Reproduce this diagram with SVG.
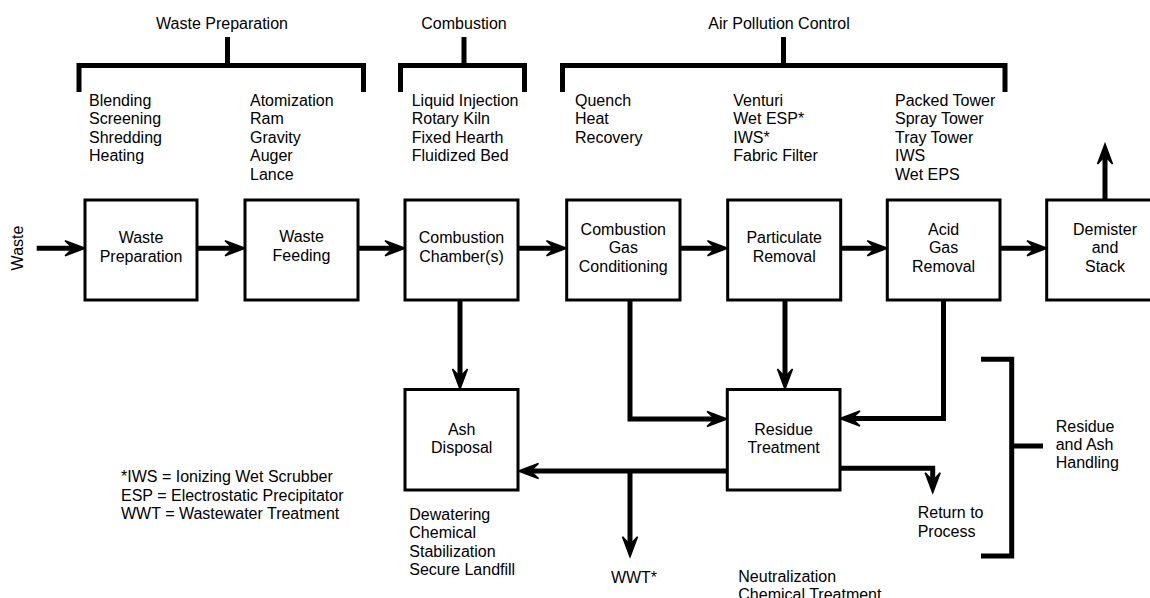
<svg xmlns="http://www.w3.org/2000/svg" width="1150" height="598" viewBox="0 0 1150 598">
<style>
text{font-family:"Liberation Sans",Arial,sans-serif;font-size:16px;fill:#000}
.c{text-anchor:middle}
.box{fill:#fff;stroke:#000;stroke-width:3}
.ln{fill:none;stroke:#000;stroke-width:5;stroke-linejoin:miter}
.br{fill:none;stroke:#000;stroke-width:5;stroke-linecap:butt}
</style>
<defs>
<marker id="ah" markerUnits="userSpaceOnUse" markerWidth="40" markerHeight="20" viewBox="-20 -10 40 20" refX="0" refY="0" orient="auto" overflow="visible">
<path d="M12,0 L-8,-7.5 L0,0 L-8,7.5 Z" fill="#000" stroke="#000" stroke-width="1.5" stroke-linejoin="miter"/>
</marker>
</defs>
<rect width="1150" height="598" fill="#fff"/>
<g id="brackets">
<text class="c" x="222" y="29">Waste Preparation</text>
<path class="br" d="M79,92 V65.5 H363.5 V92 M227.5,37 V65.5"/>
<text class="c" x="464" y="29">Combustion</text>
<path class="br" d="M400.5,92 V65.5 H524.5 V92 M464,37 V65.5"/>
<text class="c" x="779" y="29">Air Pollution Control</text>
<path class="br" d="M562.5,92 V65.5 H1005 V92 M783.5,37 V65.5"/>
<path class="br" d="M981,359.3 H1011.7 V556 H981 M1011.7,446 H1043"/>
</g>
<g id="lists">
<text x="89" y="105.5">Blending<tspan x="89" dy="18.5">Screening</tspan><tspan x="89" dy="18.5">Shredding</tspan><tspan x="89" dy="18.5">Heating</tspan></text>
<text x="250" y="105.5">Atomization<tspan x="250" dy="18.5">Ram</tspan><tspan x="250" dy="18.5">Gravity</tspan><tspan x="250" dy="18.5">Auger</tspan><tspan x="250" dy="18.5">Lance</tspan></text>
<text x="411.7" y="105.5">Liquid Injection<tspan x="411.7" dy="18.5">Rotary Kiln</tspan><tspan x="411.7" dy="18.5">Fixed Hearth</tspan><tspan x="411.7" dy="18.5">Fluidized Bed</tspan></text>
<text x="575" y="105.5">Quench<tspan x="575" dy="18.5">Heat</tspan><tspan x="575" dy="18.5">Recovery</tspan></text>
<text x="733.3" y="105.5">Venturi<tspan x="733.3" dy="18.5">Wet ESP*</tspan><tspan x="733.3" dy="18.5">IWS*</tspan><tspan x="733.3" dy="18.5">Fabric Filter</tspan></text>
<text x="895" y="105.5">Packed Tower<tspan x="895" dy="18.5">Spray Tower</tspan><tspan x="895" dy="18.5">Tray Tower</tspan><tspan x="895" dy="18.5">IWS</tspan><tspan x="895" dy="18.5">Wet EPS</tspan></text>
</g>
<g id="connectors">
<path class="ln" d="M36.7,248.3 H73" marker-end="url(#ah)"/>
<path class="ln" d="M197,248.3 H233" marker-end="url(#ah)"/>
<path class="ln" d="M358,248.3 H393" marker-end="url(#ah)"/>
<path class="ln" d="M518,248.3 H554.5" marker-end="url(#ah)"/>
<path class="ln" d="M680,248.3 H715.5" marker-end="url(#ah)"/>
<path class="ln" d="M840.5,248.3 H875.3" marker-end="url(#ah)"/>
<path class="ln" d="M1000,248.3 H1035" marker-end="url(#ah)"/>
<path class="ln" d="M1105,200 V156" marker-end="url(#ah)"/>
<path class="ln" d="M460,300 V377" marker-end="url(#ah)"/>
<path class="ln" d="M630,300 V419 H715" marker-end="url(#ah)"/>
<path class="ln" d="M785,300 V377" marker-end="url(#ah)"/>
<path class="ln" d="M943.5,300 V418.5 H852" marker-end="url(#ah)"/>
<path class="ln" d="M727,471 H530.5" marker-end="url(#ah)"/>
<path class="ln" d="M630,471 V544.7" marker-end="url(#ah)"/>
<path class="ln" d="M840,468.3 H932.7 V480.7" marker-end="url(#ah)"/>
</g>
<g id="waste-input"><text class="c" transform="translate(23,248) rotate(-90)">Waste</text></g>
<g id="waste-preparation"><rect class="box" x="85" y="200" width="112" height="100"/><text class="c" x="141" y="243.3">Waste</text><text class="c" x="141" y="261.7">Preparation</text></g>
<g id="waste-feeding"><rect class="box" x="245" y="200" width="113" height="100"/><text class="c" x="301.5" y="242">Waste</text><text class="c" x="301.5" y="260.5">Feeding</text></g>
<g id="combustion-chamber"><rect class="box" x="405" y="200" width="113" height="100"/><text class="c" x="461.5" y="243.3">Combustion</text><text class="c" x="461.5" y="261.7">Chamber(s)</text></g>
<g id="gas-conditioning"><rect class="box" x="566.7" y="200" width="113.3" height="100"/><text class="c" x="623.3" y="235">Combustion</text><text class="c" x="623.3" y="253.3">Gas</text><text class="c" x="623.3" y="271.7">Conditioning</text></g>
<g id="particulate-removal"><rect class="box" x="727.7" y="200" width="113" height="100"/><text class="c" x="784.2" y="243.3">Particulate</text><text class="c" x="784.2" y="261.7">Removal</text></g>
<g id="acid-gas-removal"><rect class="box" x="887.3" y="200" width="112.7" height="100"/><text class="c" x="943.6" y="235">Acid</text><text class="c" x="943.6" y="253.3">Gas</text><text class="c" x="943.6" y="271.7">Removal</text></g>
<g id="demister-stack"><rect class="box" x="1046.7" y="200" width="113" height="100"/><text class="c" x="1105" y="235">Demister</text><text class="c" x="1105" y="253.3">and</text><text class="c" x="1105" y="271.7">Stack</text></g>
<g id="ash-disposal"><rect class="box" x="405" y="389.5" width="113" height="100.5"/><text class="c" x="461.7" y="435">Ash</text><text class="c" x="461.7" y="453.3">Disposal</text></g>
<g id="residue-treatment"><rect class="box" x="727.3" y="389.5" width="112.7" height="100.5"/><text class="c" x="783.6" y="435">Residue</text><text class="c" x="783.6" y="453.3">Treatment</text></g>
<g id="annotations">
<text x="409.3" y="520">Dewatering<tspan x="409.3" dy="18.3">Chemical</tspan><tspan x="409.3" dy="18.3">Stabilization</tspan><tspan x="409.3" dy="18.3">Secure Landfill</tspan></text>
<text class="c" x="634" y="582.7">WWT*</text>
<text x="738.3" y="581.7">Neutralization<tspan x="738.3" dy="18.3">Chemical Treatment</tspan></text>
<text x="917.7" y="518.3">Return to<tspan x="917.7" dy="18.3">Process</tspan></text>
<text x="1055.7" y="431.7">Residue<tspan x="1055.7" dy="18.3">and Ash</tspan><tspan x="1055.7" dy="18.3">Handling</tspan></text>
<text x="121" y="482.3">*IWS = Ionizing Wet Scrubber<tspan x="121" dy="18.5">ESP = Electrostatic Precipitator</tspan><tspan x="121" dy="18.5">WWT = Wastewater Treatment</tspan></text>
</g>
</svg>
